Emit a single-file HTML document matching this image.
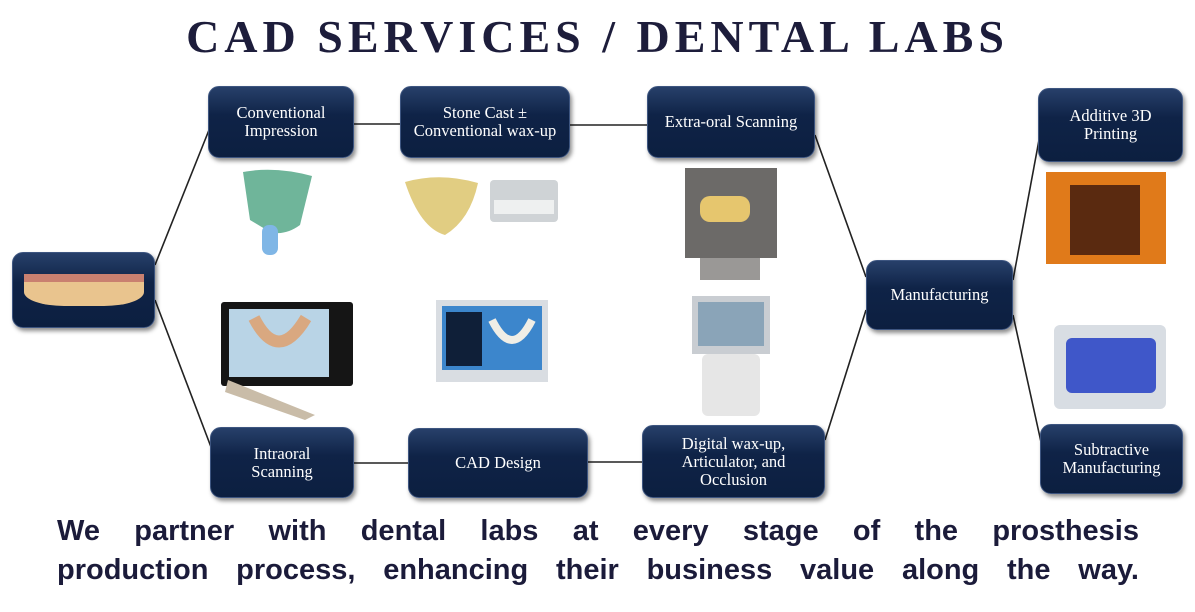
<!DOCTYPE html>
<html><head><meta charset="utf-8"><style>
body{margin:0;width:1195px;height:612px;background:#fff;position:relative;overflow:hidden;font-family:"Liberation Serif",serif}
.t{position:absolute;left:0;width:1195px;top:10px;text-align:center;font-size:46px;font-weight:bold;letter-spacing:5px;color:#1d1d3b}
.b{position:absolute;background:linear-gradient(#27406a,#0f2347 40%,#0c1f40);border-radius:11px;box-shadow:2px 3px 4px rgba(0,0,0,.45);border:1px solid #3d5580;color:#fff;font-size:16.5px;line-height:18px;display:flex;align-items:center;justify-content:center;text-align:center;box-sizing:border-box}
.p{position:absolute}
.bot{position:absolute;left:57px;width:1082px;font-family:"Liberation Sans",sans-serif;font-weight:bold;font-size:29px;line-height:39px;color:#1b1b3a;text-align:justify;text-align-last:justify;white-space:nowrap}
</style></head><body>
<div class="t">CAD SERVICES / DENTAL LABS</div>
<svg class="p" style="left:0;top:0" width="1195" height="612">
<g stroke="#222" stroke-width="1.6" fill="none">
<line x1="155" y1="265" x2="209" y2="130"/>
<line x1="155" y1="300" x2="211" y2="447"/>
<line x1="354" y1="124" x2="400" y2="124"/>
<line x1="570" y1="125" x2="647" y2="125"/>
<line x1="815" y1="135" x2="866" y2="277"/>
<line x1="825" y1="440" x2="866" y2="310"/>
<line x1="1013" y1="280" x2="1039" y2="140"/>
<line x1="1013" y1="315" x2="1041" y2="442"/>
<line x1="354" y1="463" x2="408" y2="463"/>
<line x1="588" y1="462" x2="642" y2="462"/>
</g>
<path d="M243 172 Q275 166 312 176 L300 225 Q285 236 270 232 L250 220 Z" fill="#6fb59a"/>
<rect x="262" y="225" width="16" height="30" rx="7" fill="#7fb6e6"/>
<path d="M405 182 Q440 172 478 183 Q470 220 445 235 Q420 228 405 182Z" fill="#e1cd82"/>
<rect x="490" y="180" width="68" height="42" rx="4" fill="#cfd3d6"/>
<rect x="494" y="200" width="60" height="14" fill="#eef0f0"/>
<rect x="685" y="168" width="92" height="90" fill="#6c6a68"/>
<rect x="700" y="196" width="50" height="26" rx="10" fill="#e6c66e"/>
<rect x="700" y="258" width="60" height="22" fill="#9a9896"/>
<rect x="1046" y="172" width="120" height="92" fill="#e07a1a"/>
<rect x="1070" y="185" width="70" height="70" fill="#5a2a10"/>
<rect x="1054" y="325" width="112" height="84" rx="6" fill="#d8dde3"/>
<rect x="1066" y="338" width="90" height="55" rx="6" fill="#3f57c9"/>
<rect x="221" y="302" width="132" height="84" rx="3" fill="#151515"/>
<rect x="229" y="309" width="100" height="68" fill="#b9d4e6"/>
<path d="M254 318 Q278 365 306 318" stroke="#d9a880" stroke-width="12" fill="none"/>
<path d="M228 380 L315 415 L305 420 L225 392Z" fill="#c9bca8"/>
<rect x="436" y="300" width="112" height="82" fill="#d9dde2"/>
<rect x="442" y="306" width="100" height="64" fill="#3c86cc"/>
<rect x="446" y="312" width="36" height="54" fill="#0f1f38"/>
<path d="M492 320 Q512 360 532 320" stroke="#f0eee6" stroke-width="8" fill="none"/>
<rect x="692" y="296" width="78" height="58" fill="#c9cdd2"/>
<rect x="698" y="302" width="66" height="44" fill="#8aa4b8"/>
<rect x="702" y="354" width="58" height="62" rx="6" fill="#e6e6e6"/>
</svg>
<div class="b" style="left:12px;top:252px;width:143px;height:76px;padding:12px 6px">
<div style="width:120px;height:32px;background:linear-gradient(#c98070 0 25%,#e9c48e 25%);border-radius:0 0 40px 40px/0 0 14px 14px"></div></div>
<div class="b" style="left:208px;top:86px;width:146px;height:72px">Conventional<br>Impression</div>
<div class="b" style="left:400px;top:86px;width:170px;height:72px">Stone Cast ±<br>Conventional wax-up</div>
<div class="b" style="left:647px;top:86px;width:168px;height:72px">Extra-oral Scanning</div>
<div class="b" style="left:866px;top:260px;width:147px;height:70px">Manufacturing</div>
<div class="b" style="left:1038px;top:88px;width:145px;height:74px">Additive 3D<br>Printing</div>
<div class="b" style="left:1040px;top:424px;width:143px;height:70px">Subtractive<br>Manufacturing</div>
<div class="b" style="left:210px;top:427px;width:144px;height:71px">Intraoral<br>Scanning</div>
<div class="b" style="left:408px;top:428px;width:180px;height:70px">CAD Design</div>
<div class="b" style="left:642px;top:425px;width:183px;height:73px">Digital wax-up,<br>Articulator, and<br>Occlusion</div>
<div class="bot" style="top:512px">We partner with dental labs at every stage of the prosthesis</div>
<div class="bot" style="top:551px">production process, enhancing their business value along the way.</div>
</body></html>
